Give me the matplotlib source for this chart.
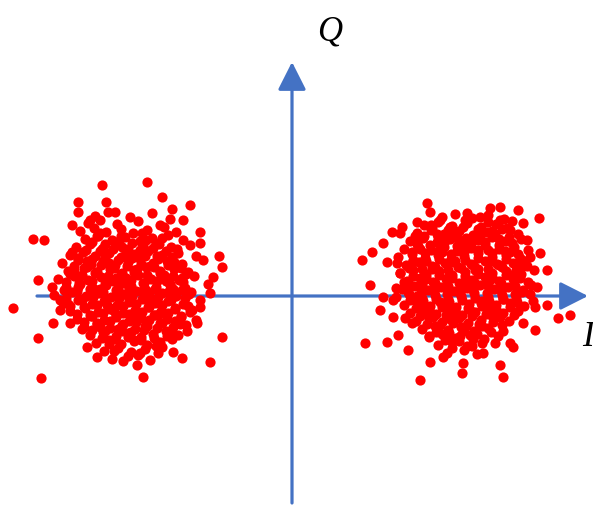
import numpy as np
import matplotlib
matplotlib.use("Agg")
import matplotlib.pyplot as plt
from matplotlib.patches import FancyArrowPatch

# received BPSK symbols (I, Q) around the two constellation points
left_core = [
    (-197, 80), (-184, 84), (-162, 79), (-140, 83),
    (-204, 73), (-192, 76), (-175, 72), (-154, 75), (-132, 71), (-122, 77),
    (-212, 65), (-198, 68), (-186, 64), (-171, 67), (-159, 63), (-145, 66), (-128, 69), (-116, 64),
    (-207, 57), (-194, 60), (-180, 56), (-167, 59), (-152, 55), (-140, 58), (-124, 61), (-109, 56),
    (-216, 49), (-202, 52), (-189, 48), (-176, 51), (-164, 47), (-149, 50), (-136, 53), (-121, 49), (-102, 51),
    (-222, 41), (-209, 44), (-197, 40), (-183, 43), (-171, 39), (-157, 42), (-144, 45), (-130, 41), (-114, 43), (-96, 40),
    (-230, 33), (-214, 36), (-201, 32), (-189, 35), (-177, 31), (-164, 34), (-152, 37), (-139, 33), (-125, 35), (-110, 32), (-89, 36),
    (-224, 25), (-208, 28), (-195, 24), (-182, 27), (-170, 23), (-158, 26), (-146, 29), (-132, 25), (-118, 27), (-104, 24),
    (-234, 17), (-218, 20), (-204, 16), (-191, 19), (-179, 15), (-166, 18), (-154, 21), (-141, 17), (-127, 19), (-113, 16), (-98, 20),
    (-226, 9), (-212, 12), (-199, 8), (-186, 11), (-174, 7), (-161, 10), (-149, 13), (-136, 9), (-122, 11), (-107, 8), (-84, 12),
    (-238, 1), (-220, 4), (-206, 0), (-193, 3), (-181, -1), (-168, 2), (-156, 5), (-143, 1), (-130, 3), (-116, 0), (-101, 4),
    (-229, -7), (-214, -4), (-200, -8), (-188, -5), (-175, -9), (-163, -6), (-150, -3), (-137, -7), (-124, -5), (-109, -8), (-92, -4),
    (-222, -15), (-207, -12), (-194, -16), (-182, -13), (-169, -17), (-157, -14), (-144, -11), (-131, -15), (-117, -13), (-102, -16),
    (-215, -23), (-201, -20), (-188, -24), (-176, -21), (-163, -25), (-151, -22), (-138, -19), (-125, -23), (-111, -21), (-96, -24),
    (-208, -31), (-195, -28), (-182, -32), (-170, -29), (-157, -33), (-145, -30), (-132, -27), (-119, -31), (-106, -29),
    (-202, -39), (-189, -36), (-176, -40), (-164, -37), (-151, -41), (-139, -38), (-126, -35), (-114, -39),
    (-196, -47), (-183, -44), (-171, -48), (-158, -45), (-145, -49), (-132, -46), (-120, -43),
    (-188, -55), (-174, -52), (-161, -56), (-147, -53), (-134, -57),
    (-180, -63), (-164, -60), (-142, -64),
]

left_fill = [
    (-200, 54), (-187, 52), (-173, 55), (-160, 53), (-146, 56), (-133, 52),
    (-206, 46), (-192, 45), (-179, 47), (-166, 44), (-152, 46), (-139, 48), (-126, 45),
    (-214, 38), (-200, 37), (-187, 39), (-174, 36), (-160, 38), (-147, 40), (-134, 37), (-120, 39),
    (-218, 30), (-205, 29), (-191, 31), (-178, 28), (-165, 30), (-151, 32), (-138, 29), (-124, 31), (-111, 28),
    (-222, 22), (-210, 21), (-197, 23), (-184, 20), (-171, 22), (-158, 24), (-145, 21), (-132, 23), (-119, 20), (-106, 22),
    (-226, 14), (-213, 13), (-200, 15), (-187, 12), (-174, 14), (-161, 16), (-148, 13), (-135, 15), (-122, 12), (-109, 14),
    (-228, 6), (-215, 5), (-202, 7), (-189, 4), (-176, 6), (-163, 8), (-150, 5), (-137, 7), (-124, 4), (-110, 6),
    (-226, -2), (-212, -3), (-199, -1), (-186, -4), (-173, -2), (-160, 0), (-147, -3), (-134, -1), (-121, -4), (-107, -2),
    (-222, -10), (-208, -11), (-195, -9), (-182, -12), (-169, -10), (-156, -8), (-143, -11), (-130, -9), (-117, -12), (-104, -10),
    (-215, -18), (-202, -19), (-189, -17), (-176, -20), (-163, -18), (-150, -16), (-137, -19), (-124, -17), (-111, -20),
    (-208, -26), (-195, -27), (-182, -25), (-169, -28), (-156, -26), (-143, -24), (-130, -27), (-117, -25),
    (-200, -34), (-187, -35), (-174, -33), (-161, -36), (-148, -34), (-135, -32), (-122, -35),
    (-190, -42), (-177, -43), (-164, -41), (-151, -44), (-138, -42),
]

left_dense = [
    (-190, 47), (-170, 49), (-150, 44), (-135, 40), (-205, 35), (-183, 33), (-162, 41),
    (-142, 30), (-118, 34), (-196, 24), (-176, 18), (-155, 27), (-128, 21), (-110, 18),
    (-214, 9), (-192, 7), (-168, 13), (-146, 6), (-126, 15), (-103, 2), (-210, -4),
    (-185, -9), (-163, -3), (-140, -6), (-119, 7), (-200, -20), (-178, -15), (-155, -21),
    (-133, -18), (-112, -28), (-192, -31), (-170, -35), (-147, -30), (-125, -40), (-183, -48),
    (-158, -44), (-136, -50), (-218, 26), (-224, -8), (-100, -14), (-171, 60), (-150, 63),
    (-195, 60), (-178, -55), (-154, -59), (-130, 58), (-115, 47), (-210, -33), (-105, -35),
    (-220, 44),
]

left_outer = [
    (-190, 111), (-145, 114), (-130, 99), (-214, 94), (-186, 94), (-102, 91), (-120, 87),
    (-177, 84), (-259, 57), (-248, 56), (-92, 64), (-92, 53), (-73, 40), (-70, 29),
    (-254, 16), (-279, -12), (-239, -27), (-254, -42), (-70, -41), (-82, -66), (-251, -82),
    (-149, -81), (-169, -65), (-110, -62), (-220, 71), (-109, 76), (-214, 84), (-202, 76),
    (-130, -51), (-119, -56), (-79, 19), (-82, 3), (-95, -27), (-92, -11), (-240, 9),
    (-232, -4), (-232, -14), (-222, -27), (-205, -51), (-195, -61), (-152, -57), (-155, -69),
    (-192, 63),
]

right_core = [
    (150, 79), (163, 82), (180, 78), (196, 81), (212, 77),
    (132, 71), (146, 74), (160, 70), (175, 73), (189, 69), (204, 72), (220, 75),
    (125, 63), (139, 66), (152, 62), (167, 65), (181, 61), (195, 64), (210, 67), (226, 62),
    (118, 55), (131, 58), (145, 54), (158, 57), (172, 53), (186, 56), (200, 59), (214, 55), (229, 57),
    (112, 47), (126, 50), (139, 46), (152, 49), (165, 45), (179, 48), (193, 51), (207, 47), (222, 49), (236, 46),
    (106, 39), (120, 42), (133, 38), (146, 41), (159, 37), (172, 40), (186, 43), (200, 39), (214, 41), (228, 38),
    (114, 31), (127, 34), (140, 30), (153, 33), (166, 29), (179, 32), (193, 35), (207, 31), (221, 33), (235, 30),
    (108, 23), (121, 26), (134, 22), (147, 25), (160, 21), (173, 24), (186, 27), (200, 23), (214, 25), (229, 22), (242, 26),
    (115, 15), (128, 18), (141, 14), (154, 17), (167, 13), (180, 16), (193, 19), (207, 15), (221, 17), (236, 14),
    (110, 7), (123, 10), (136, 6), (149, 9), (162, 5), (175, 8), (188, 11), (202, 7), (216, 9), (231, 6),
    (104, -1), (117, 2), (130, -2), (143, 1), (156, -3), (169, 0), (182, 3), (196, -1), (210, 1), (224, -2), (238, 2),
    (112, -9), (125, -6), (138, -10), (151, -7), (164, -11), (177, -8), (190, -5), (204, -9), (218, -7), (232, -10),
    (118, -17), (131, -14), (144, -18), (157, -15), (170, -19), (183, -16), (197, -13), (211, -17), (226, -15),
    (124, -25), (137, -22), (150, -26), (163, -23), (176, -27), (189, -24), (203, -21), (217, -25),
    (130, -33), (143, -30), (156, -34), (169, -31), (182, -35), (196, -32), (210, -29),
    (137, -41), (150, -38), (164, -42), (178, -39), (192, -43), (206, -40),
    (146, -49), (160, -46), (175, -50), (190, -47),
    (155, -57), (172, -54), (185, -58),
]

right_fill = [
    (140, 68), (156, 66), (171, 69), (186, 67), (200, 65),
    (132, 60), (146, 59), (160, 61), (174, 58), (188, 60), (203, 62), (217, 59),
    (125, 52), (138, 51), (152, 53), (165, 50), (179, 52), (193, 54), (207, 51), (220, 53),
    (120, 44), (133, 43), (146, 45), (159, 42), (172, 44), (186, 46), (200, 43), (213, 45), (226, 42),
    (121, 36), (134, 35), (147, 37), (160, 34), (173, 36), (186, 38), (200, 35), (214, 37), (227, 34),
    (117, 28), (130, 27), (143, 29), (156, 26), (169, 28), (182, 30), (196, 27), (210, 29), (224, 26),
    (121, 20), (134, 19), (147, 21), (160, 18), (173, 20), (186, 22), (200, 19), (214, 21), (228, 18),
    (117, 12), (130, 11), (143, 13), (156, 10), (169, 12), (182, 14), (195, 11), (209, 13), (223, 10),
    (116, 4), (129, 3), (142, 5), (155, 2), (168, 4), (181, 6), (195, 3), (209, 5), (223, 2),
    (118, -4), (131, -5), (144, -3), (157, -6), (170, -4), (183, -2), (197, -5), (211, -3), (225, -6),
    (124, -12), (137, -13), (150, -11), (163, -14), (176, -12), (190, -10), (204, -13), (218, -11),
    (128, -20), (141, -21), (154, -19), (167, -22), (180, -20), (194, -18), (208, -21),
    (135, -28), (148, -29), (161, -27), (174, -30), (187, -28), (201, -26),
    (144, -36), (157, -37), (171, -35), (185, -38), (199, -36),
    (153, -44), (167, -45), (181, -43),
]

right_dense = [
    (145, 62), (165, 58), (188, 63), (207, 57), (128, 47), (150, 44), (172, 50),
    (196, 46), (218, 44), (120, 33), (140, 27), (163, 35), (183, 26), (205, 32),
    (228, 28), (112, 14), (134, 17), (157, 21), (176, 12), (198, 16), (220, 21),
    (239, 11), (125, 0), (148, -6), (167, 4), (189, -7), (211, -3), (230, 4),
    (135, -16), (158, -23), (178, -14), (200, -20), (222, -19), (146, -35), (168, -40),
    (190, -30), (211, -35), (160, -52), (180, -50), (113, -22), (233, 35), (215, 68),
    (123, 60), (173, 76), (196, 74), (104, 8), (241, -5), (139, 71), (137, -40),
    (203, -47),
]

right_outer = [
    (135, 93), (138, 84), (175, 83), (198, 88), (208, 89), (226, 86), (247, 78),
    (110, 69), (100, 64), (91, 53), (80, 44), (70, 36), (95, 34), (78, 11),
    (91, -1), (88, -14), (101, -21), (73, -47), (95, -46), (106, -39), (116, -54),
    (138, -66), (128, -84), (151, -61), (170, -77), (171, -67), (191, -57), (208, -69),
    (211, -81), (218, -47), (243, -34), (255, -9), (266, -22), (278, -19), (255, 26),
    (248, 43), (231, 73), (235, 56), (238, 39), (245, 9), (243, -11), (231, -27),
    (221, -51), (105, 33), (108, 23), (101, -4), (120, -27), (108, 63), (125, 74),
    (148, 76), (158, 69), (188, 79), (208, 76), (218, 66),
]

axis_color = "#4472C4"
dot_color = "#FF0000"

pts = np.array(left_core + left_fill + left_dense + left_outer
               + right_core + right_fill + right_dense + right_outer)

fig = plt.figure(figsize=(5.93, 5.08), dpi=100)
ax = fig.add_axes([0, 0, 1, 1])
ax.set_xlim(-292, 301)
ax.set_ylim(-212, 296)
ax.axis("off")

# I and Q axes with arrow heads
for start, end in [((-255, 0), (296, 0)), ((0, -207), (0, 234))]:
    arr = FancyArrowPatch(start, end, arrowstyle="-|>,head_length=0.95,head_width=0.48",
                          mutation_scale=18, color=axis_color, lw=2.3, zorder=1,
                          shrinkA=0, shrinkB=0)
    ax.add_patch(arr)

ax.scatter(pts[:, 0], pts[:, 1], s=54, c=dot_color, linewidths=0, zorder=2)

ax.text(38, 264, "Q", fontsize=25, style="italic", family="Liberation Serif",
        ha="center", va="center")
ax.text(296, -41, "I", fontsize=25, style="italic", family="Liberation Serif",
        ha="center", va="center")

fig.savefig("out.png", dpi=100)
